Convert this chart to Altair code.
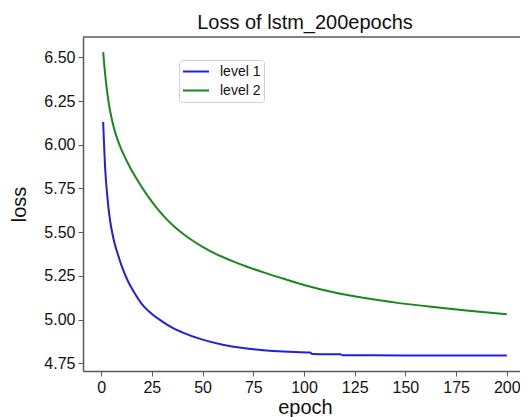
import altair as alt
import pandas as pd

# ---- data ----
chart_title = "Loss of lstm_200epochs"

epochs_l1 = [1, 2, 3, 4, 5, 6, 7, 8, 10, 13, 16, 20, 25, 30, 35, 40, 50, 60, 70, 80,
             90, 103, 104, 118, 119, 150, 200]
loss_l1 = [6.13, 5.86, 5.71, 5.60, 5.525, 5.467, 5.42, 5.382, 5.31, 5.225, 5.16, 5.09,
           5.032, 4.99, 4.954, 4.927, 4.885, 4.856, 4.837, 4.825, 4.817, 4.811, 4.803,
           4.801, 4.796, 4.795, 4.794]

epochs_l2 = [1, 2, 3, 4, 5, 6, 7, 8, 10, 12, 14, 16, 18, 20, 24, 28, 32, 36, 40, 45,
             50, 57, 65, 72, 80, 90, 100, 115, 130, 147, 165, 180, 200]
loss_l2 = [6.53, 6.40, 6.30, 6.22, 6.16, 6.11, 6.068, 6.032, 5.972, 5.922, 5.876, 5.834,
           5.795, 5.758, 5.69, 5.63, 5.577, 5.532, 5.494, 5.452, 5.416, 5.373, 5.333,
           5.302, 5.27, 5.233, 5.198, 5.155, 5.123, 5.094, 5.07, 5.052, 5.031]

series_names = ["level 1", "level 2"]
series_colors = ["#2020e0", "#1b861b"]
x_ticks = [0, 25, 50, 75, 100, 125, 150, 175, 200]
y_ticks = [4.75, 5.00, 5.25, 5.50, 5.75, 6.00, 6.25, 6.50]

df = pd.concat([
    pd.DataFrame({"epoch": epochs_l1, "loss": loss_l1, "series": series_names[0]}),
    pd.DataFrame({"epoch": epochs_l2, "loss": loss_l2, "series": series_names[1]}),
])

FONT = "Liberation Sans"
GRAY = "#5a5a5a"
W, H = 444, 334

lines = alt.Chart(df).mark_line(strokeWidth=2, interpolate="monotone").encode(
    x=alt.X("epoch:Q",
            scale=alt.Scale(domain=[-8.95, 209.95], nice=False, zero=False),
            axis=alt.Axis(values=x_ticks, title="epoch", format="d", grid=False,
                          labelFontSize=16, titleFontSize=20, titleFontWeight="normal",
                          labelPadding=3, tickSize=5,
                          titleBaseline="alphabetic", titleY=42,
                          domainColor=GRAY, tickColor=GRAY, domainWidth=1.5,
                          labelColor="#111", titleColor="#111",
                          labelFont=FONT, titleFont=FONT)),
    y=alt.Y("loss:Q",
            scale=alt.Scale(domain=[4.7057, 6.6163], nice=False, zero=False),
            axis=alt.Axis(values=y_ticks, title="loss", format=".2f", grid=False,
                          labelFontSize=16, titleFontSize=20, titleFontWeight="normal",
                          labelPadding=3, titlePadding=14, tickSize=5,
                          domainColor=GRAY, tickColor=GRAY, domainWidth=1.5,
                          labelColor="#111", titleColor="#111",
                          labelFont=FONT, titleFont=FONT)),
    color=alt.Color("series:N",
                    scale=alt.Scale(domain=series_names, range=series_colors),
                    legend=alt.Legend(title=None, orient="none", legendX=96, legendY=23,
                                      symbolType="stroke", symbolSize=676,
                                      symbolStrokeWidth=2, labelFontSize=14,
                                      labelFont=FONT, labelColor="#111",
                                      labelOffset=10, rowPadding=2, padding=3,
                                      clipHeight=17,
                                      strokeColor="#d0d0d0", cornerRadius=3,
                                      fillColor="white")),
)

top_rule = alt.Chart(pd.DataFrame({"k": [0]})).mark_rule(
    color=GRAY, strokeWidth=1.5
).encode(x=alt.value(0), x2=alt.value(W), y=alt.value(0))

title_text = alt.Chart(pd.DataFrame({"t": [chart_title]})).mark_text(
    font=FONT, fontSize=20, color="#111", baseline="alphabetic", align="center"
).encode(text="t:N", x=alt.value(W / 2), y=alt.value(-8))

chart = alt.layer(lines, top_rule, title_text).properties(
    width=W, height=H,
    autosize=alt.AutoSizeParams(type="none"),
    padding={"left": 75, "top": 29, "right": -7, "bottom": 46},
).configure_view(stroke=None)

chart.save("out.html", embed_options={"renderer": "svg", "actions": False})
